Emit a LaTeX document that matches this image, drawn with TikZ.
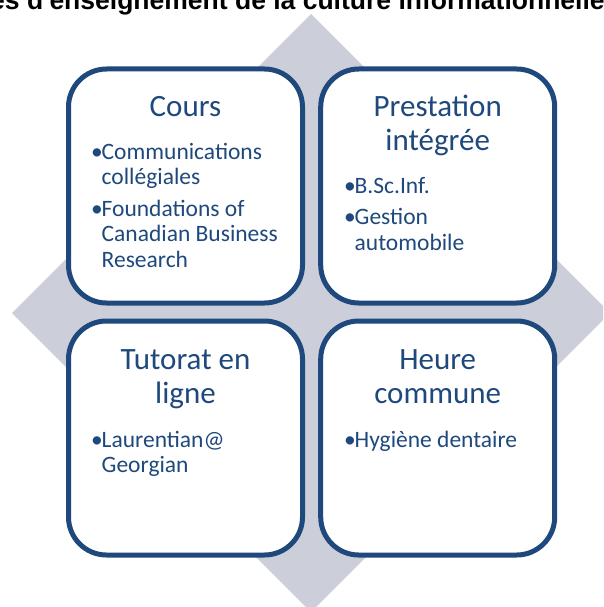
\documentclass[tikz,border=0pt]{standalone}
\usepackage{fontspec}
\setmainfont{Carlito}
\newfontfamily\headfont{Liberation Sans}
\definecolor{navy}{RGB}{31,73,125}
\definecolor{diamondgray}{RGB}{204,207,217}
\newcommand{\bulitem}{\noindent\hangindent=10.5pt\hangafter=1\makebox[10.5pt][l]{•}}
\begin{document}
\begin{tikzpicture}[x=1pt,y=-1pt,
  card/.style={draw=navy, line width=5pt, fill=white, rounded corners=38pt,
    minimum width=234pt, minimum height=234pt, inner sep=0pt},
  cardtitle/.style={anchor=base, inner sep=0pt, text=navy,
    font=\fontsize{31}{34}\selectfont},
  cardlist/.style={anchor=base west, inner sep=0pt, text=navy,
    font=\fontsize{23.5}{25.5}\selectfont},
  headline/.style={anchor=base west, inner sep=0pt, text=black,
    font=\headfont\bfseries\fontsize{26.5}{30}\selectfont}]
\useasboundingbox (0,0) rectangle (603,607);
\clip (0,0) rectangle (603,607);
\fill[diamondgray] (311,14) -- (610,313) -- (311,612) -- (12,313) -- cycle;
\node[headline] (head) at (-10,9.5) {es d'enseignement de la culture informationnelle};
% cards
\node[card] (tl) at (185.5,186) {};
\node[card] (tr) at (437.7,186) {};
\node[card] (bl) at (185.5,438) {};
\node[card] (br) at (437.7,438) {};
% titles
\node[cardtitle] (tlt) at (185.5,117) {\parbox[t]{220pt}{\centering Cours}};
\node[cardtitle] (trt) at (437.7,117) {\parbox[t]{220pt}{\centering Prestation\\intégrée}};
\node[cardtitle] (blt) at (185.5,369) {\parbox[t]{220pt}{\centering Tutorat en\\ligne}};
\node[cardtitle] (brt) at (437.7,369) {\parbox[t]{220pt}{\centering Heure\\commune}};
% lists
\node[cardlist] (tll) at (91,159) {\parbox[t]{210pt}{\raggedright
  \bulitem Communications\newline collégiales\par\vspace{6pt}
  \bulitem Foundations of\newline Canadian Business\newline Research\par}};
\node[cardlist] (trl) at (344,193) {\parbox[t]{210pt}{\raggedright
  \bulitem B.Sc.Inf.\par\vspace{6pt}
  \bulitem Gestion\newline automobile\par}};
\node[cardlist] (bll) at (91,447) {\parbox[t]{210pt}{\raggedright
  \bulitem Laurentian@\newline Georgian\par}};
\node[cardlist] (brl) at (344,447) {\parbox[t]{210pt}{\raggedright
  \bulitem Hygiène dentaire\par}};
\end{tikzpicture}
\end{document}
